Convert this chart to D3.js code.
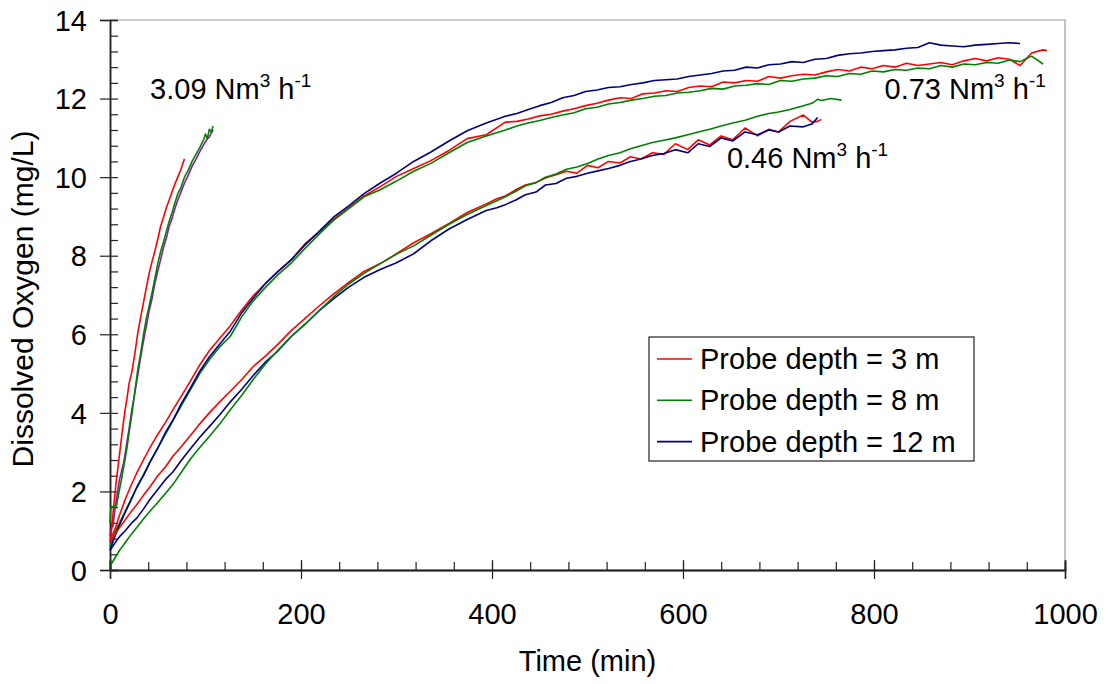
<!DOCTYPE html>
<html>
<head>
<meta http-equiv="Content-Type" content="text/html; charset=UTF-8">
<script src="https://cdn.jsdelivr.net/npm/d3@7"></script>
<style>
body { margin: 0; background: #fff; }
text { font-family: "Liberation Sans", Arial, sans-serif; fill: #000; }
</style>
</head>
<body>

<div class="container"></div>

<script>

// --- data (time in min, DO in mg/L) ---

// 3.09 Nm3/h run
var time309   = [0, 1, 2, 3, 4, 5, 6, 7, 8, 10, 12, 14, 16, 18, 20, 23, 26, 29, 32, 35, 38, 41, 44, 47, 50, 53, 56, 59, 62, 65, 68, 71, 74, 78, 82, 86, 90, 94, 98, 100, 102, 104, 106, 108];
var red309    = [0.70, 0.80, 1.15, 1.40, 1.65, 1.90, 2.12, 2.37, 2.55, 2.95, 3.35, 3.75, 4.10, 4.40, 4.75, 5.05, 5.50, 6.02, 6.42, 6.80, 7.18, 7.55, 7.85, 8.12, 8.42, 8.75, 8.98, 9.22, 9.42, 9.62, 9.83, 10.00, 10.18, 10.47, null, null, null, null, null, null, null, null, null, null];
var green309  = [1.20, 1.60, 1.62, 1.60, 1.62, 1.63, 1.62, 1.65, 1.80, 2.05, 2.30, 2.58, 2.85, 3.15, 3.50, 3.98, 4.55, 5.08, 5.50, 5.98, 6.40, 6.72, 7.05, 7.42, 7.80, 8.10, 8.35, 8.62, 8.88, 9.10, 9.35, 9.58, 9.72, 10.00, 10.18, 10.40, 10.58, 10.75, 10.95, 11.10, 10.98, 11.22, 11.15, 11.30];
var purple309 = [0.85, 1.00, 1.15, 1.10, 1.30, 1.50, 1.68, 1.85, 2.00, 2.30, 2.50, 2.70, 2.98, 3.30, 3.60, 4.10, 4.50, 4.95, 5.40, 5.82, 6.20, 6.60, 6.90, 7.30, 7.60, 7.90, 8.20, 8.45, 8.75, 8.95, 9.20, 9.42, 9.60, 9.85, 10.05, 10.28, 10.45, 10.65, 10.82, 10.90, 10.98, 11.02, 11.12, 11.20];

// 0.73 Nm3/h run
var time073  = [0, 5, 10, 16, 22, 28, 35, 42, 50, 58, 66, 75, 84, 94, 104, 115, 126, 138, 150, 163, 176, 190, 204, 219, 234, 250, 266, 283, 300, 318, 336, 355, 374, 394,
                414, 426, 438, 450, 462, 474, 486, 498, 510, 522, 534, 546, 558, 570, 582, 594, 606, 618, 630, 642, 654, 666, 678, 690, 702, 714, 726, 738, 750, 762,
                774, 786, 798, 810, 822, 834, 846, 858, 870, 882, 894, 906, 918, 930, 942, 953, 965, 977, 981];
var red073   = [0.76, 1.02, 1.40, 1.80, 2.15, 2.47, 2.80, 3.12, 3.45, 3.75, 4.08, 4.44, 4.80, 5.22, 5.58, 5.90, 6.22, 6.62, 6.98, 7.30, 7.60, 7.90, 8.30, 8.60, 8.93, 9.22, 9.52, 9.76, 10.02, 10.22, 10.42, 10.68, 10.98, 11.08,
                11.40, 11.42, 11.48, 11.56, 11.60, 11.68, 11.74, 11.82, 11.88, 11.96, 12.02, 12.00, 12.12, 12.14, 12.20, 12.18, 12.28, 12.32, 12.30, 12.42, 12.40, 12.46, 12.44, 12.56, 12.52, 12.58, 12.62, 12.60, 12.68, 12.74,
                12.70, 12.80, 12.76, 12.84, 12.80, 12.90, 12.84, 12.88, 12.92, 12.86, 12.96, 13.02, 12.96, 13.04, 13.00, 12.84, 13.16, 13.24, 13.22];
var green073 = [0.60, 0.95, 1.20, 1.50, 1.80, 2.10, 2.42, 2.75, 3.10, 3.45, 3.80, 4.20, 4.58, 5.00, 5.35, 5.68, 5.95, 6.45, 6.85, 7.20, 7.52, 7.82, 8.18, 8.55, 8.90, 9.20, 9.50, 9.68, 9.90, 10.15, 10.35, 10.62, 10.88, 11.05,
                11.20, 11.30, 11.38, 11.44, 11.52, 11.58, 11.64, 11.74, 11.78, 11.86, 11.90, 11.96, 12.00, 12.06, 12.08, 12.14, 12.16, 12.20, 12.26, 12.24, 12.32, 12.34, 12.38, 12.36, 12.46, 12.44, 12.50, 12.52, 12.58, 12.56,
                12.64, 12.62, 12.70, 12.68, 12.74, 12.72, 12.78, 12.76, 12.84, 12.80, 12.88, 12.86, 12.92, 12.90, 12.98, 12.94, 13.08, 12.88, null];
var blue073  = [0.50, 0.85, 1.15, 1.47, 1.78, 2.10, 2.40, 2.75, 3.10, 3.50, 3.82, 4.25, 4.62, 5.06, 5.42, 5.75, 6.08, 6.55, 6.92, 7.30, 7.60, 7.90, 8.27, 8.62, 8.98, 9.27, 9.58, 9.85, 10.10, 10.40, 10.64, 10.92, 11.18, 11.38,
                11.55, 11.62, 11.72, 11.82, 11.90, 12.02, 12.08, 12.18, 12.22, 12.28, 12.30, 12.36, 12.40, 12.46, 12.48, 12.50, 12.56, 12.60, 12.64, 12.70, 12.72, 12.80, 12.78, 12.86, 12.88, 12.94, 12.92, 13.00, 13.02, 13.10,
                13.14, 13.16, 13.20, 13.22, 13.24, 13.28, 13.30, 13.42, 13.36, 13.34, 13.32, 13.36, 13.38, 13.40, 13.42, 13.40, null, null, null];

// 0.46 Nm3/h run
var time046  = [0, 5, 10, 16, 22, 28, 35, 42, 50, 58, 66, 75, 84, 94, 104, 115, 126, 138, 150, 163, 176, 190, 204, 219, 234, 250, 266, 283, 300, 318, 336, 355, 374,
                394, 405, 414, 425, 435, 446, 456, 467, 478, 489, 500, 511, 522, 534, 545, 556, 568, 580, 592,
                605, 616, 628, 640, 652, 665, 678, 690, 700, 712, 726, 735, 741, 745, 755, 766];
var red046   = [0.72, 0.90, 1.08, 1.28, 1.48, 1.66, 1.90, 2.12, 2.40, 2.62, 2.90, 3.15, 3.42, 3.72, 4.00, 4.28, 4.55, 4.85, 5.18, 5.45, 5.75, 6.10, 6.40, 6.72, 7.02, 7.32, 7.60, 7.80, 8.05, 8.33, 8.56, 8.82, 9.10,
                9.32, 9.45, 9.52, 9.68, 9.80, 9.86, 9.98, 10.06, 10.15, 10.10, 10.30, 10.24, 10.40, 10.36, 10.52, 10.46, 10.62, 10.58, 10.85,
                10.70, 10.95, 10.82, 11.05, 10.95, 11.25, 11.05, 11.22, 11.15, 11.42, 11.58, 11.40, 11.42, 11.47, null, null];
var green046 = [0.10, 0.30, 0.50, 0.70, 0.90, 1.08, 1.30, 1.50, 1.72, 1.95, 2.18, 2.50, 2.82, 3.12, 3.40, 3.72, 4.08, 4.45, 4.85, 5.25, 5.60, 5.95, 6.25, 6.60, 6.95, 7.28, 7.55, 7.80, 8.04, 8.25, 8.52, 8.80, 9.05,
                9.28, 9.40, 9.50, 9.64, 9.78, 9.86, 10.00, 10.08, 10.20, 10.26, 10.35, 10.46, 10.55, 10.62, 10.72, 10.80, 10.88, 10.94, 11.00,
                11.08, 11.15, 11.22, 11.30, 11.38, 11.45, 11.55, 11.62, 11.66, 11.72, 11.82, 11.88, 11.98, 11.95, 12.00, 11.96];
var blue046  = [0.50, 0.68, 0.85, 1.00, 1.18, 1.32, 1.55, 1.80, 2.05, 2.30, 2.50, 2.80, 3.08, 3.38, 3.65, 3.95, 4.28, 4.60, 4.95, 5.30, 5.58, 5.95, 6.25, 6.60, 6.90, 7.20, 7.45, 7.65, 7.82, 8.05, 8.38, 8.68, 8.92,
                9.15, 9.22, 9.30, 9.42, 9.55, 9.62, 9.80, 9.84, 9.97, 10.02, 10.10, 10.16, 10.22, 10.30, 10.40, 10.46, 10.55, 10.60, 10.70,
                10.62, 10.85, 10.78, 11.00, 10.92, 11.15, 11.08, 11.20, 11.15, 11.30, 11.28, 11.35, 11.52, null, null, null];

var flowLabels  = ["3.09", "0.73", "0.46"];
var depthLabels = ["Probe depth = 3 m", "Probe depth = 8 m", "Probe depth = 12 m"];
var xTicks = [0, 200, 400, 600, 800, 1000];
var yTicks = [0, 2, 4, 6, 8, 10, 12, 14];

// --- layout ---
var width = 1107;
var height = 684;
var margin = { left: 110, right: 42, top: 20, bottom: 114 };
var innerW = width - margin.left - margin.right;
var innerH = height - margin.top - margin.bottom;

var red = "#ff0000", green = "#008000", blue = "#000080", purple = "#8b1a9b";

var svg = d3.select(".container")
            .append("svg")
                .attr("width", width)
                .attr("height", height);
var g = svg.append("g").attr("transform", "translate(" + margin.left + "," + margin.top + ")");

var x = d3.scaleLinear().domain([0, 1000]).range([0, innerW]);
var y = d3.scaleLinear().domain([0, 14]).range([innerH, 0]);

// light frame on top and right
g.append("path")
    .attr("d", "M0,0H" + innerW + "V" + innerH)
    .attr("fill", "none")
    .attr("stroke", "#999")
    .attr("stroke-width", 1.2);

// minor ticks point inward, majors cross the axis
var xMinor = d3.range(0, 1001, 40);
var yMinor = d3.range(0, 14.01, 0.4);

g.append("g")
    .attr("class", "axis")
    .attr("transform", "translate(0," + innerH + ")")
    .call(d3.axisBottom(x).tickValues(xMinor).tickSize(-8).tickFormat(""));
g.append("g")
    .attr("class", "axis")
    .attr("transform", "translate(0," + innerH + ")")
    .call(d3.axisBottom(x).tickValues(xTicks).tickSize(-10).tickFormat(""));
g.append("g")
    .attr("class", "axis xmain")
    .attr("transform", "translate(0," + innerH + ")")
    .call(d3.axisBottom(x).tickValues(xTicks).tickSize(9).tickPadding(24).tickFormat(d3.format("d")));

g.append("g")
    .attr("class", "axis")
    .call(d3.axisLeft(y).tickValues(yMinor).tickSize(-8).tickFormat(""));
g.append("g")
    .attr("class", "axis ymain")
    .call(d3.axisLeft(y).tickValues(yTicks).tickSize(10).tickPadding(13).tickFormat(d3.format("d")));

svg.selectAll(".axis .domain").attr("stroke", "#222").attr("stroke-width", 1.5);
svg.selectAll(".axis line").attr("stroke", "#222").attr("stroke-width", 1.2);
svg.selectAll(".axis text").style("font-size", "29px").style("font-family", "Liberation Sans, Arial, sans-serif").attr("fill", "#000");
svg.selectAll(".ymain text").attr("dy", "0.35em");

// axis titles
svg.append("text")
    .attr("x", margin.left + innerW / 2)
    .attr("y", 671)
    .attr("text-anchor", "middle")
    .style("font-size", "29px")
    .text("Time (min)");

svg.append("text")
    .attr("transform", "translate(33," + (margin.top + innerH / 2 + 4) + ") rotate(-90)")
    .attr("text-anchor", "middle")
    .style("font-size", "30px")
    .text("Dissolved Oxygen (mg/L)");

// --- curves ---
var line = d3.line()
             .defined(function(d) { return d[1] != null; })
             .x(function(d) { return x(d[0]); })
             .y(function(d) { return y(d[1]); });

function pairs(times, values) {
    return times.map(function(t, i) { return [t, values[i]]; });
}

var series = [
    { times: time309, values: purple309, color: purple },
    { times: time309, values: red309,    color: red },
    { times: time309, values: green309,  color: green },
    { times: time073, values: red073,    color: red },
    { times: time073, values: green073,  color: green },
    { times: time073, values: blue073,   color: blue },
    { times: time046, values: red046,    color: red },
    { times: time046, values: blue046,   color: blue },
    { times: time046, values: green046,  color: green }
];

g.selectAll(".curve")
    .data(series)
    .enter().append("path")
        .attr("class", "curve")
        .attr("fill", "none")
        .attr("stroke", function(d) { return d.color; })
        .attr("stroke-width", 1.6)
        .attr("stroke-linejoin", "round")
        .attr("d", function(d) { return line(pairs(d.times, d.values)); });

// flow rate labels, anchored in data units
var flowPos = [ { t: 42, v: 11.98 }, { t: 811, v: 12.0 }, { t: 646, v: 10.23 } ];

flowLabels.forEach(function(lbl, i) {
    var t = g.append("text")
             .attr("x", x(flowPos[i].t))
             .attr("y", y(flowPos[i].v))
             .style("font-size", "29px");
    t.append("tspan").text(lbl + " Nm");
    t.append("tspan").attr("dy", -12).style("font-size", "19px").text("3");
    t.append("tspan").attr("dy", 12).text(" h");
    t.append("tspan").attr("dy", -12).style("font-size", "19px").text("-1");
});

// legend
var legendColors = [red, green, blue];
var legend = svg.append("g").attr("transform", "translate(649,337)");

legend.append("rect")
    .attr("width", 325)
    .attr("height", 124)
    .attr("fill", "#fff")
    .attr("stroke", "#222")
    .attr("stroke-width", 1.2);

var item = legend.selectAll(".item")
    .data(depthLabels)
    .enter().append("g")
        .attr("class", "item")
        .attr("transform", function(d, i) { return "translate(0," + (22 + i * 41.3) + ")"; });

item.append("line")
    .attr("x1", 8).attr("x2", 43)
    .attr("stroke", function(d, i) { return legendColors[i]; })
    .attr("stroke-width", 1.6);

item.append("text")
    .attr("x", 51)
    .attr("y", 10)
    .style("font-size", "29px")
    .text(function(d) { return d; });

</script>
</body>
</html>
